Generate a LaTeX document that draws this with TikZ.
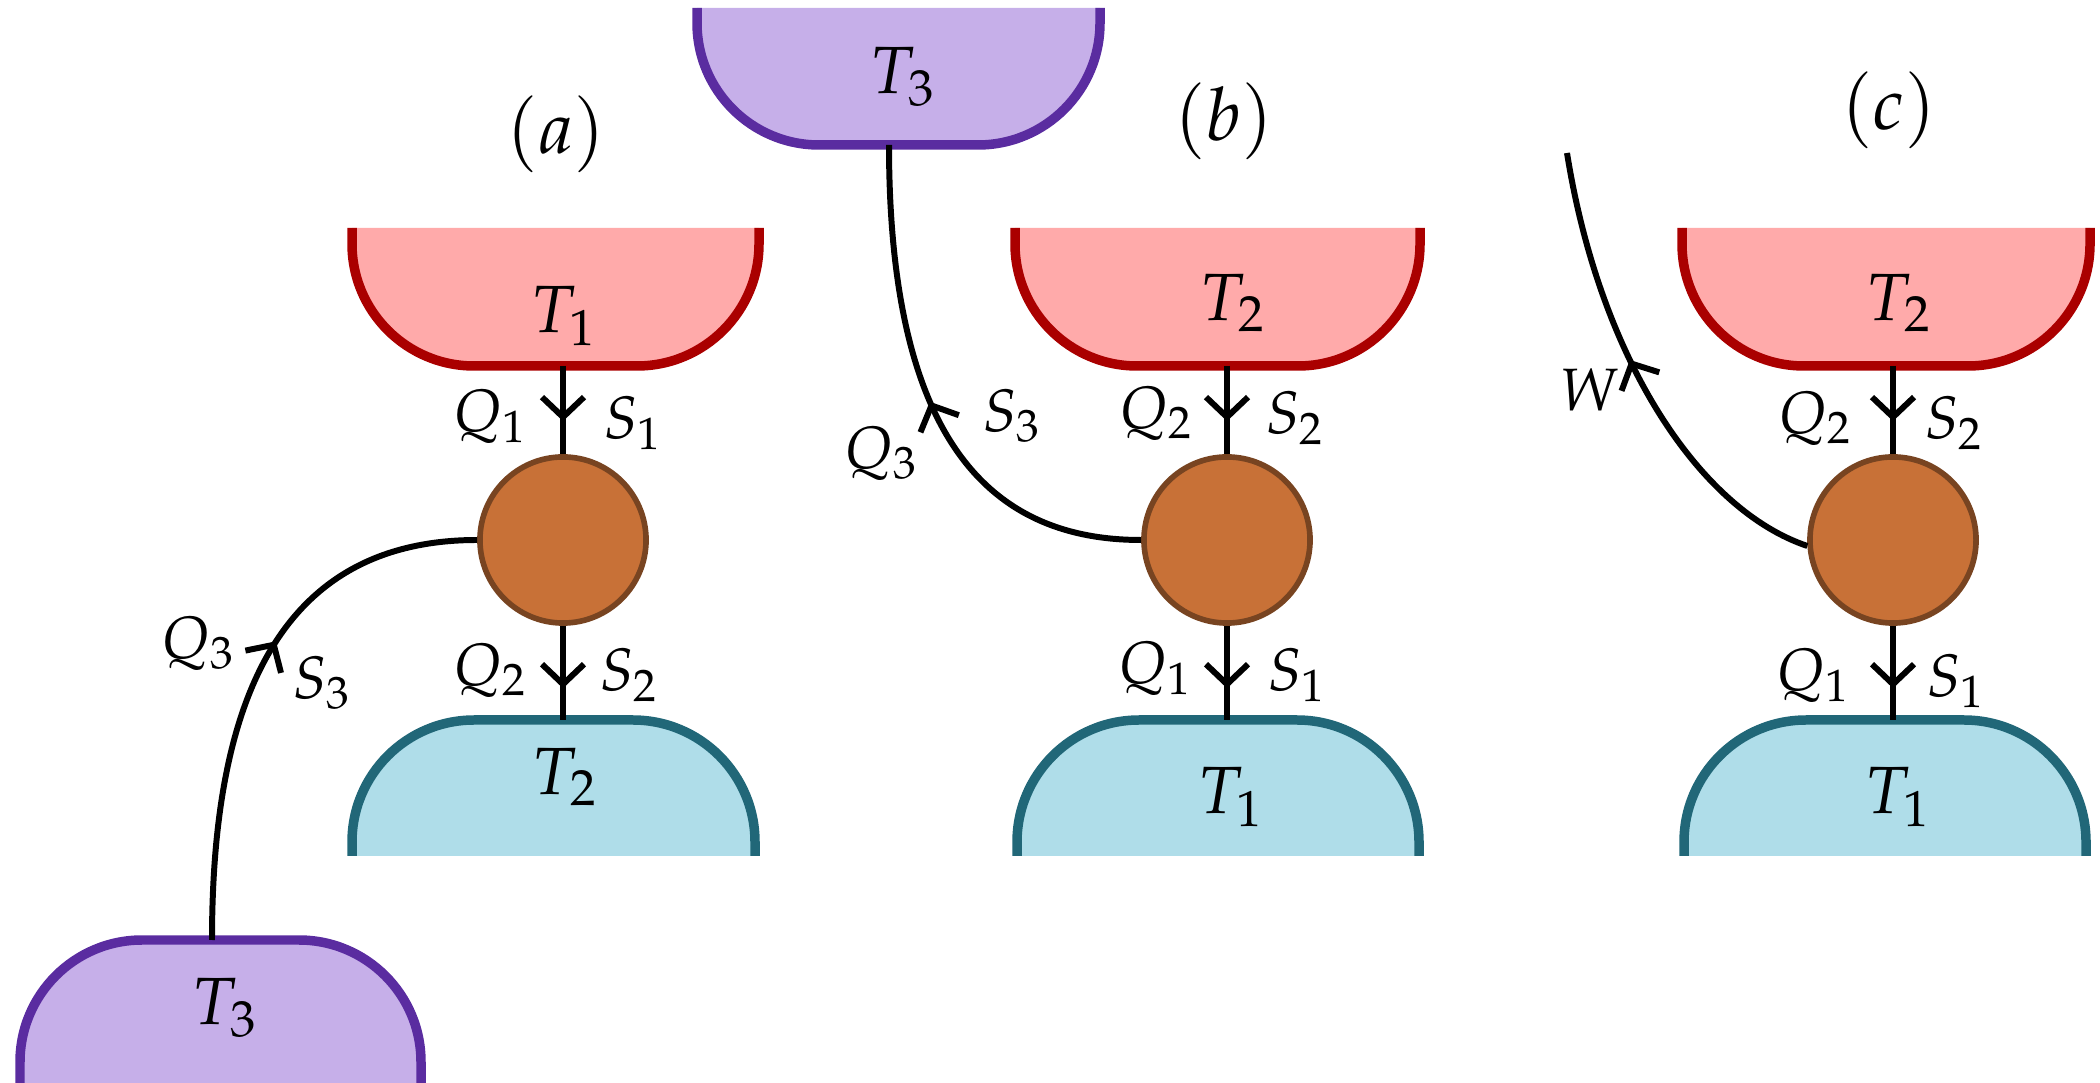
\documentclass[tikz,border=0pt]{standalone}
\usepackage{mathpazo}
\usetikzlibrary{decorations.markings}
\definecolor{rfill}{HTML}{FFAAAA}
\definecolor{rline}{HTML}{AA0000}
\definecolor{bfill}{HTML}{AFDDE9}
\definecolor{bline}{HTML}{216778}
\definecolor{pfill}{HTML}{C6AFE9}
\definecolor{pline}{HTML}{5A2CA0}
\definecolor{efill}{HTML}{C87137}
\definecolor{eline}{HTML}{784421}
\begin{document}
\begin{tikzpicture}[x=0.01cm,y=-0.01cm,
  flow/.style={line width=1.7pt,black},
  midarrow/.style={postaction={decorate},decoration={markings,
      mark=at position #1 with {\draw[line width=1.7pt,black] (-0.2cm,0.21cm) -- (0cm,0cm) -- (-0.2cm,-0.21cm);}}},
  resv/.style={line width=2.7pt,rounded corners=1.22cm},
  hotres/.style={resv,fill=rfill,draw=rline},
  coldres/.style={resv,fill=bfill,draw=bline},
  workres/.style={resv,fill=pfill,draw=pline},
  engine/.style={circle,draw=eline,fill=efill,line width=1.6pt,minimum size=1.66cm,inner sep=0pt},
  lab/.style={inner sep=0pt,font=\fontsize{17}{20}\selectfont},
  tlab/.style={inner sep=0pt,font=\fontsize{19}{22}\selectfont},
  plab/.style={inner sep=0pt,font=\fontsize{21}{24}\selectfont}]
\useasboundingbox (0,0) rectangle (2100,1083);

% ---------- reservoirs ----------
% (a)
\filldraw[hotres] (352,228) -- (352,366) -- (759,366) -- (759,228);
\filldraw[coldres] (352,856) -- (352,720) -- (755,720) -- (755,856);
\filldraw[workres] (20,1083) -- (20,940) -- (421,940) -- (421,1083);
% (b)
\filldraw[workres] (697,8) -- (697,145) -- (1100,145) -- (1100,8);
\filldraw[hotres] (1015,228) -- (1015,366) -- (1420,366) -- (1420,228);
\filldraw[coldres] (1017,856) -- (1017,720) -- (1419,720) -- (1419,856);
% (c)
\filldraw[hotres] (1682,228) -- (1682,366) -- (2090,366) -- (2090,228);
\filldraw[coldres] (1684,856) -- (1684,720) -- (2086,720) -- (2086,856);

% connection points
\coordinate (T1a-s) at (563,366);
\coordinate (T2a-n) at (563,720);
\coordinate (T3a-n) at (212,940);
\coordinate (T3b-s) at (889,145);
\coordinate (T2b-s) at (1227,366);
\coordinate (T1b-n) at (1227,720);
\coordinate (T2c-s) at (1893,366);
\coordinate (T1c-n) at (1893,720);
\coordinate (Wend) at (1567,153);

% ---------- engines ----------
\node[engine] (Ea) at (563,540) {};
\node[engine] (Eb) at (1227,540) {};
\node[engine] (Ec) at (1893,540) {};

% ---------- connectors ----------
\draw[flow,midarrow=0.58] (T1a-s) -- (Ea);
\draw[flow,midarrow=0.62] (Ea) -- (T2a-n);
\draw[flow,midarrow=0.56] (T3a-n) .. controls (212,700) and (280,540) .. (Ea.west);

\draw[flow,midarrow=0.58] (T2b-s) -- (Eb);
\draw[flow,midarrow=0.62] (Eb) -- (T1b-n);
\draw[flow,midarrow=0.5] (Eb.west) .. controls (990,540) and (889,440) .. (T3b-s);

\draw[flow,midarrow=0.58] (T2c-s) -- (Ec);
\draw[flow,midarrow=0.62] (Ec) -- (T1c-n);
\draw[flow,midarrow=0.54] (Ec.184) .. controls (1700,510) and (1600,360) .. (Wend);

% ---------- reservoir labels ----------
\node[tlab] (LT1a) at (564,316) {$T_1$};
\node[tlab] (LT2a) at (565,777) {$T_2$};
\node[tlab] (LT3a) at (225,1008) {$T_3$};
\node[tlab] (LT3b) at (903,77) {$T_3$};
\node[tlab] (LT2b) at (1233,303) {$T_2$};
\node[tlab] (LT1b) at (1231,797) {$T_1$};
\node[tlab] (LT2c) at (1899,303) {$T_2$};
\node[tlab] (LT1c) at (1898,797) {$T_1$};

% ---------- flow labels ----------
\node[lab] (Q1a) at (490,416) {$Q_1$};
\node[lab] (S1a) at (633,423) {$S_1$};
\node[lab] (Q2a) at (490,670) {$Q_2$};
\node[lab] (S2a) at (629,675) {$S_2$};
\node[lab] (Q3a) at (198,643) {$Q_3$};
\node[lab] (S3a) at (322,683) {$S_3$};

\node[lab] (Q3b) at (881,453) {$Q_3$};
\node[lab] (S3b) at (1012,416) {$S_3$};
\node[lab] (Q2b) at (1156,413) {$Q_2$};
\node[lab] (S2b) at (1295,418) {$S_2$};
\node[lab] (Q1b) at (1155,668) {$Q_1$};
\node[lab] (S1b) at (1297,675) {$S_1$};

\node[lab] (Wc) at (1590,390) {$W$};
\node[lab] (Q2c) at (1815,418) {$Q_2$};
\node[lab] (S2c) at (1954,423) {$S_2$};
\node[lab] (Q1c) at (1813,675) {$Q_1$};
\node[lab] (S1c) at (1956,681) {$S_1$};

% ---------- panel labels ----------
\node[plab] (pa) at (556,134) {$(a)$};
\node[plab] (pb) at (1224,121) {$(b)$};
\node[plab] (pc) at (1889,110) {$(c)$};
\end{tikzpicture}
\end{document}
